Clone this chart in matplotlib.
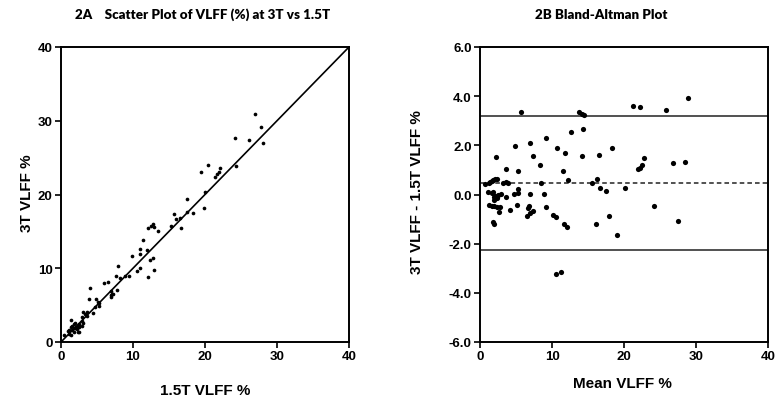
import matplotlib
matplotlib.use("Agg")
import matplotlib.pyplot as plt
import numpy as np

# Bland-Altman readings: mean VLFF % and difference (3T - 1.5T)
ba_mean = [5.7, 13.8, 14.1, 14.4, 21.2, 22.2, 25.9, 28.9,
           14.3, 12.6, 9.1, 7.0, 4.9, 10.75, 18.4,
           2.2, 7.3, 11.8, 14.2, 16.5, 22.8, 22.5, 22.2, 21.9, 26.8, 28.5,
           8.3, 3.6, 5.3, 11.5, 12.2, 16.3, 15.5, 8.5,
           0.7, 1.2, 1.4, 1.7, 1.85, 2.1, 2.3, 3.2, 3.6, 3.9,
           16.7, 17.5, 20.2, 8.9, 6.9, 5.3, 4.7, 5.3, 3.6,
           1.1, 1.6, 1.85, 2.1, 2.3, 2.0, 2.5, 2.9, 1.9, 2.4,
           4.2, 5.1, 9.2, 6.8, 6.5, 6.9, 7.4, 6.7, 10.1, 10.5, 11.7, 12.1,
           16.1, 17.9, 19.0, 24.1, 27.5, 10.5, 11.3,
           1.85, 1.9, 1.2, 1.6, 2.3, 2.6, 2.8, 2.0]
ba_diff = [3.35, 3.35, 3.28, 3.24, 3.59, 3.54, 3.43, 3.93,
           2.67, 2.53, 2.29, 2.09, 1.99, 1.88, 1.88,
           1.54, 1.58, 1.69, 1.58, 1.62, 1.49, 1.19, 1.07, 1.03, 1.28, 1.32,
           1.19, 1.04, 0.94, 0.94, 0.58, 0.63, 0.48, 0.48,
           0.43, 0.47, 0.52, 0.55, 0.59, 0.63, 0.62, 0.48, 0.49, 0.47,
           0.28, 0.13, 0.28, 0.02, 0.02, 0.22, 0.03, 0.05, -0.12,
           0.09, 0.05, 0.10, -0.05, -0.15, -0.22, -0.03, 0.02, -0.10, -0.10,
           -0.62, -0.43, -0.52, -0.47, -0.86, -0.77, -0.66, -0.56, -0.84, -0.93, -1.20, -1.31,
           -1.22, -0.86, -1.66, -0.47, -1.07, -3.25, -3.17,
           -1.11, -1.18, -0.42, -0.46, -0.52, -0.73, -0.52, -0.45]

bias = 0.47
loa_upper = 3.18
loa_lower = -2.25

left_ticks = [0, 10, 20, 30, 40]
ba_xticks = [0, 10, 20, 30, 40]
ba_yticks = [-6.0, -4.0, -2.0, 0.0, 2.0, 4.0, 6.0]

m = np.array(ba_mean)
d = np.array(ba_diff)
vlff_15 = m - d / 2.0
vlff_3 = m + d / 2.0

W, H = 775, 402
fig = plt.figure(figsize=(W / 100, H / 100), dpi=100)

tick_font = dict(family="Liberation Sans", weight="bold", size=9.5)
lab_font = dict(family="Liberation Sans", weight="bold", size=11)

def style(ax):
    for s in ax.spines.values():
        s.set_linewidth(1.4)
        s.set_color("black")
    ax.tick_params(direction="out", length=4, width=1.2, pad=2, colors="black")
    for lab in ax.get_xticklabels() + ax.get_yticklabels():
        lab.set_fontproperties(matplotlib.font_manager.FontProperties(**tick_font))

ax1 = fig.add_axes([61 / W, 1 - 343 / H, 288 / W, 295 / H])
ax1.plot([0, 40], [0, 40], color="black", lw=1.2)
ax1.scatter(vlff_15, vlff_3, s=7, color="black", zorder=3, linewidths=0)
ax1.set_xlim(0, 40)
ax1.set_ylim(0, 40)
ax1.set_xticks(left_ticks)
ax1.set_yticks(left_ticks)
ax1.set_xticklabels([str(t) for t in left_ticks])
ax1.set_yticklabels([str(t) for t in left_ticks])
style(ax1)

ax2 = fig.add_axes([480 / W, 1 - 343 / H, 288 / W, 295 / H])
ax2.axhline(loa_upper, color="#222222", lw=1.1)
ax2.axhline(loa_lower, color="#222222", lw=1.1)
ax2.axhline(bias, color="#222222", lw=1.1, ls=(0, (3, 2)))
ax2.scatter(m, d, s=14, color="black", zorder=3, linewidths=0)
ax2.set_xlim(0, 40)
ax2.set_ylim(-6, 6)
ax2.set_xticks(ba_xticks)
ax2.set_yticks(ba_yticks)
ax2.set_xticklabels([str(t) for t in ba_xticks])
ax2.set_yticklabels(["%.1f" % t for t in ba_yticks])
style(ax2)

title_font = dict(family="Lato", weight="heavy", size=9.6)
fig.text(203 / W, 1 - 15 / H, "2A    Scatter Plot of VLFF (%) at 3T vs 1.5T",
         ha="center", va="center", **title_font)
fig.text(601 / W, 1 - 15 / H, "2B Bland-Altman Plot",
         ha="center", va="center", **title_font)

fig.text(27 / W, 1 - 193 / H, "3T VLFF %", rotation=90, ha="center", va="center", **lab_font)
fig.text(205 / W, 1 - 391 / H, "1.5T VLFF %", ha="center", va="center", **lab_font)
fig.text(417 / W, 1 - 192 / H, "3T VLFF - 1.5T VLFF %", rotation=90, ha="center", va="center", **lab_font)
fig.text(622 / W, 1 - 384 / H, "Mean VLFF %", ha="center", va="center", **lab_font)

fig.savefig("out.png", dpi=100)
